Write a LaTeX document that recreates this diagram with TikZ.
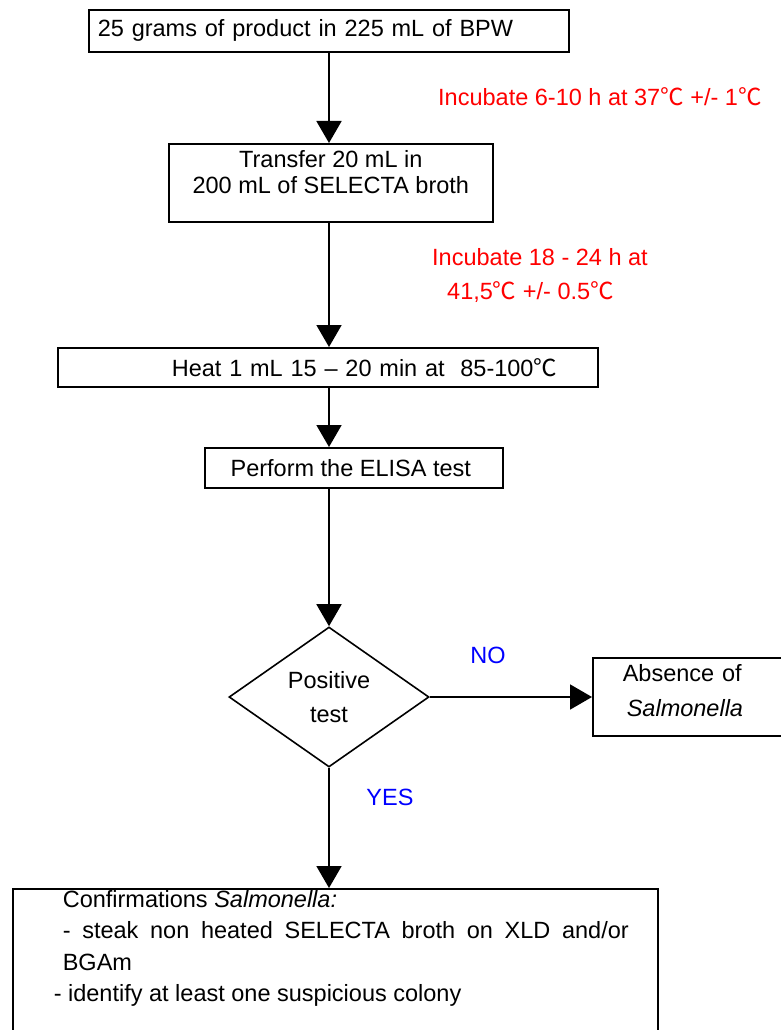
\documentclass[tikz,border=0pt]{standalone}
\usepackage{fontspec}
\setmainfont{Liberation Sans}
\newfontfamily\cjkfont{Noto Sans CJK SC}
\newcommand\dC{{\cjkfont ℃}}
\usetikzlibrary{arrows.meta,shapes.geometric}
\definecolor{myred}{RGB}{255,0,0}
\definecolor{myblue}{RGB}{0,0,255}
\begin{document}
\begin{tikzpicture}[x=1pt,y=-1pt,
  txt/.style={font=\fontsize{23.5pt}{29pt}\selectfont, inner sep=0pt},
  box/.style={txt, draw, line width=1.6pt, anchor=north west},
  arr/.style={line width=1.8pt, -{Triangle[width=25pt,length=22pt]}},
  redtxt/.style={txt, text=myred},
  bluetxt/.style={txt, text=myblue}]
\useasboundingbox (0,0) rectangle (781,1030);

\node[box, minimum width=480pt, minimum height=42pt, text width=462pt, inner xsep=9pt, align=left] (b1) at (88,9) {25 grams of product in 225 mL of BPW};

\node[box, minimum width=324pt, minimum height=78pt, font=\fontsize{23.5pt}{25.5pt}\selectfont] (b2) at (168,143) {\raisebox{1pt}[0pt][0pt]{\begin{tabular}{@{}c@{}}Transfer 20 mL in\\200 mL of SELECTA broth\end{tabular}}};

\node[box, minimum width=540pt, minimum height=39pt, text width=540pt, align=left] (b3) at (57,347) {\hspace*{114pt}Heat 1 mL 15 -- 20 min at\ \ 85-100\dC};

\node[box, minimum width=298pt, minimum height=40pt] (b4) at (204,447) {Perform the ELISA test\hspace*{6pt}};

\node[txt, draw, line width=1.6pt, diamond, aspect=1.43, minimum width=200pt, minimum height=140pt, align=center, font=\fontsize{23.5pt}{34pt}\selectfont] (dia) at (329,697) {Positive\\test};

\node[box, minimum width=212pt, minimum height=78pt, text width=152pt, inner xsep=30pt, align=left, font=\fontsize{23.5pt}{33pt}\selectfont] (abs) at (592,657) {\raisebox{-1pt}[0pt][0pt]{\def\arraystretch{1.06}\begin{tabular}{@{}l@{}}Absence of\\\hspace*{4pt}\textit{Salmonella}\end{tabular}}};

\node[box, minimum width=645pt, text width=645pt, inner ysep=1.5pt, align=justify] (b5) at (12,888) {\parindent=0pt\relax\tolerance=9999\relax\leftskip=50pt\relax\rightskip=29pt\relax\baselineskip=31.5pt\relax
Confirmations \textit{Salmonella:}\par
- steak non heated SELECTA broth on XLD and/or BGAm\par
\leftskip=41pt\relax - identify at least one suspicious colony\par
\vspace*{40pt}\mbox{}};

\node[redtxt, anchor=base west] (inc1) at (438,105.5) {Incubate 6-10 h at 37\dC\ +/- 1\dC};
\node[redtxt, anchor=north west, align=left, font=\fontsize{23.5pt}{34pt}\selectfont] (inc2) at (432,248) {Incubate 18 - 24 h at\\\hspace*{15pt}41,5\dC\ +/- 0.5\dC};

\node[bluetxt] (no) at (488,655) {NO};
\node[bluetxt] (yes) at (390,797) {YES};

\draw[arr] (b1.south -| dia.north) -- (b2.north -| dia.north);
\draw[arr] (b2.south -| dia.north) -- (b3.north -| dia.north);
\draw[arr] (b3.south -| dia.north) -- (b4.north -| dia.north);
\draw[arr] (b4.south -| dia.north) -- (dia.north);
\draw[arr] (dia.east) -- (dia.east -| abs.west);
\draw[arr] (dia.south) -- (b5.north -| dia.south);
\end{tikzpicture}
\end{document}
